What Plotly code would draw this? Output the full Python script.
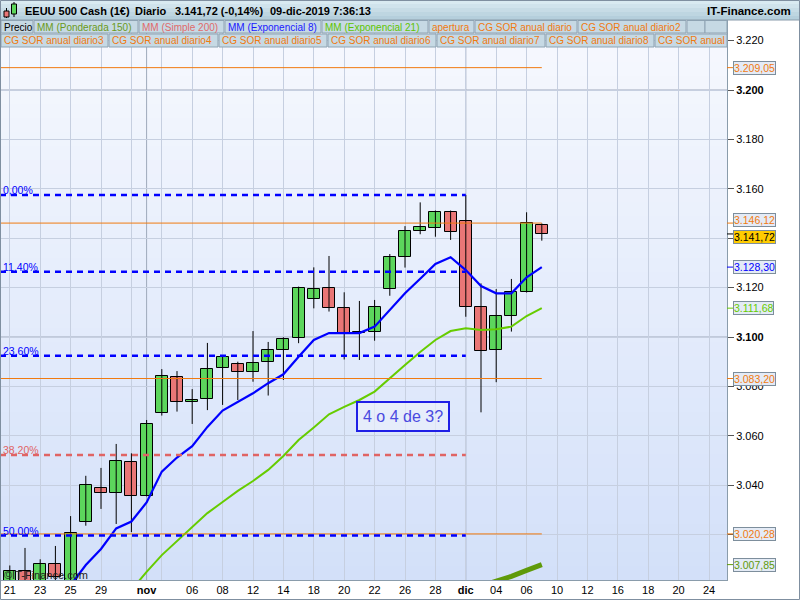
import plotly.graph_objects as go

# ---------------- data ----------------
dates = ["2019-10-21", "2019-10-22", "2019-10-23", "2019-10-24", "2019-10-25",
         "2019-10-28", "2019-10-29", "2019-10-30", "2019-10-31", "2019-11-01",
         "2019-11-04", "2019-11-05", "2019-11-06", "2019-11-07", "2019-11-08",
         "2019-11-11", "2019-11-12", "2019-11-13", "2019-11-14", "2019-11-15",
         "2019-11-18", "2019-11-19", "2019-11-20", "2019-11-21", "2019-11-22",
         "2019-11-25", "2019-11-26", "2019-11-27", "2019-11-28", "2019-11-29",
         "2019-12-02", "2019-12-03", "2019-12-04", "2019-12-05", "2019-12-06",
         "2019-12-09"]
future_dates = ["2019-12-10", "2019-12-11", "2019-12-12", "2019-12-13", "2019-12-16",
                "2019-12-17", "2019-12-18", "2019-12-19", "2019-12-20", "2019-12-23",
                "2019-12-24"]

open_ = [2997.0, 3005.4, 2998.0, 3008.0, 3000.0, 3025.0, 3039.0, 3037.0, 3049.5, 3035.7,
         3069.1, 3084.0, 3073.6, 3074.8, 3087.3, 3089.0, 3085.8, 3089.7, 3094.6, 3099.5,
         3115.3, 3119.7, 3111.6, 3101.8, 3101.9, 3119.3, 3132.3, 3142.9, 3144.0, 3150.5,
         3146.8, 3112.0, 3094.6, 3108.4, 3118.1, 3145.2]
high = [3007.5, 3014.6, 3010.0, 3015.4, 3027.5, 3043.8, 3047.0, 3056.7, 3052.9, 3066.4,
        3087.0, 3086.2, 3078.9, 3097.6, 3092.2, 3090.0, 3102.4, 3098.0, 3099.9, 3120.4,
        3128.2, 3132.8, 3118.1, 3114.6, 3115.0, 3133.6, 3144.9, 3154.5, 3151.2, 3151.2,
        3157.5, 3121.7, 3119.4, 3123.5, 3150.5, 3146.0]
low = [2993.0, 2994.0, 2993.0, 2998.0, 2999.0, 3023.6, 3030.4, 3024.3, 3021.0, 3035.5,
       3068.2, 3069.8, 3064.8, 3070.4, 3072.5, 3074.5, 3081.9, 3076.3, 3082.6, 3097.5,
       3111.6, 3110.3, 3090.9, 3090.7, 3098.5, 3116.7, 3128.1, 3141.6, 3140.6, 3139.3,
       3108.2, 3069.5, 3081.7, 3102.2, 3118.0, 3139.0]
close = [3005.4, 2996.0, 3008.0, 3003.0, 3020.5, 3040.0, 3037.0, 3050.0, 3035.7, 3064.7,
         3084.3, 3073.6, 3074.6, 3086.9, 3092.0, 3085.8, 3089.4, 3094.6, 3099.1, 3119.7,
         3119.3, 3111.6, 3101.5, 3101.5, 3112.0, 3132.3, 3142.9, 3144.4, 3150.7, 3142.4,
         3112.0, 3094.2, 3108.4, 3118.1, 3146.0, 3141.72]

ema8 = [None, None, None, None,
        2999.5, 3007.7, 3014.2, 3022.5, 3025.3, 3033.0, 3045.5, 3051.2, 3055.8, 3063.6,
        3070.2, 3073.7, 3077.2, 3081.3, 3084.9, 3092.0, 3098.8, 3101.6, 3101.6, 3101.6,
        3104.2, 3110.9, 3117.7, 3123.6, 3129.6, 3132.3, 3127.1, 3120.6, 3117.7, 3117.7,
        3124.2, 3128.30]
ema21 = [None, None, None, None, None, None, None, None,
         2997.6, 3004.9, 3011.7, 3017.4, 3023.0, 3028.7, 3033.2, 3037.7, 3041.7, 3046.2,
         3051.8, 3058.3, 3063.4, 3068.7, 3071.7, 3074.5, 3077.9, 3083.4, 3088.7, 3093.9,
         3098.8, 3102.4, 3103.5, 3102.8, 3103.1, 3104.2, 3108.5, 3111.68]
wma150 = [None] * 31 + [2999.2, 3001.1, 3003.1, 3005.5, 3007.85]

fib_levels = [3157.5, 3126.4, 3092.4, 3052.2, 3019.6]
fib_labels = ["0,00%", "11,40%", "23,60%", "38,20%", "50,00%"]
fib_end_date = "2019-12-02"

sor_levels = [3209.05, 3146.12, 3083.20, 3020.28]
sor_end_date = "2019-12-09"

y_ticks = [3000, 3020, 3040, 3060, 3080, 3100, 3120, 3140, 3160, 3180, 3200, 3220]
y_tick_hidden = [3020, 3140]   # covered by value boxes in the original
x_tick_dates = ["2019-10-21", "2019-10-23", "2019-10-25", "2019-10-29", "2019-11-01",
                "2019-11-06", "2019-11-08", "2019-11-12", "2019-11-14", "2019-11-18",
                "2019-11-20", "2019-11-22", "2019-11-26", "2019-11-28", "2019-12-02",
                "2019-12-04", "2019-12-06", "2019-12-10", "2019-12-12", "2019-12-16",
                "2019-12-18", "2019-12-20", "2019-12-24"]
x_tick_labels = ["21", "23", "25", "29", "<b>nov</b>", "06", "08", "12", "14", "18", "20",
                 "22", "26", "28", "<b>dic</b>", "04", "06", "10", "12", "16", "18", "20", "24"]
month_starts = ["2019-11-01", "2019-12-02"]

note_text = "4 o 4 de 3?"
note_date = "2019-11-25"
note_value = 3068.0

title_parts = ["EEUU 500 Cash (1€)", "Diario", "3.141,72 (-0,14%)", "09-dic-2019 7:36:13"]
legend_row1 = ["Precio", "MM (Ponderada 150)", "MM (Simple 200)", "MM (Exponencial 8)",
               "MM (Exponencial 21)", "apertura", "CG SOR anual diario", "CG SOR anual diario2", "", ""]
legend_row2 = ["CG SOR anual diario3", "CG SOR anual diario4", "CG SOR anual diario5",
               "CG SOR anual diario6", "CG SOR anual diario7", "CG SOR anual diario8", "CG SOR anual"]

# ---------------- styles / layout constants ----------------
FONT = "Liberation Sans, Arial, sans-serif"
W, H = 800, 600
ML, MR, MT, MB = 0, 73, 20, 20
PW, PH = W - ML - MR, H - MT - MB

C_UP, C_DN = "#5cd65c", "#e97676"
C_BLUE, C_GREEN, C_OLIVE, C_ORANGE, C_PINK = "#0000ff", "#66cc00", "#5f9a0a", "#f07a10", "#e06464"
fib_colors = [C_BLUE, C_BLUE, C_BLUE, C_PINK, C_BLUE]
row1_colors = ["#000000", "#6a9a20", "#e06a6a", "#1a1aff", "#5ec400", C_ORANGE, C_ORANGE, C_ORANGE,
               C_ORANGE, C_ORANGE]
row1_boxes = [(1, 33), (34, 138), (139, 224), (225, 321), (322, 428), (429, 474), (475, 577),
              (578, 686), (687, 705), (705, 727)]
row2_boxes = [(1, 108), (109, 218), (219, 327), (328, 436), (437, 545), (546, 654), (655, 727)]


def X(px):
    return (px - ML) / PW


def Y(py):
    return (H - MB - py) / PH


def es(v):
    s = f"{v:,.2f}"
    return s.replace(",", "#").replace(".", ",").replace("#", ".")


def es_tick(v):
    return f"{v:,.0f}".replace(",", ".")


all_dates = dates + future_dates
pos = {d: i for i, d in enumerate(all_dates)}
x = [pos[d] for d in dates]

X_RANGE = [-0.645, -0.645 + PW / 15.2]
Y_RANGE = [3200 - 490 / 2.47, 3200 + 70 / 2.47]

fig = go.Figure()

# wicks
wx, wy = [], []
for xi, h, l in zip(x, high, low):
    wx += [xi, xi, None]
    wy += [l, h, None]
fig.add_trace(go.Scatter(x=wx, y=wy, mode="lines", line=dict(color="black", width=1),
                         hoverinfo="skip", showlegend=False))
# bodies
fig.add_trace(go.Bar(
    x=x, y=[max(abs(c - o), 0.35) for o, c in zip(open_, close)],
    base=[min(o, c) for o, c in zip(open_, close)], width=0.8,
    marker=dict(color=[C_UP if c >= o else C_DN for o, c in zip(open_, close)],
                line=dict(color="black", width=1)),
    showlegend=False, hoverinfo="skip"))

# moving averages
fig.add_trace(go.Scatter(x=x, y=wma150, mode="lines", line=dict(color=C_OLIVE, width=5), showlegend=False))
fig.add_trace(go.Scatter(x=x, y=ema21, mode="lines", line=dict(color=C_GREEN, width=2), showlegend=False))
fig.add_trace(go.Scatter(x=x, y=ema8, mode="lines", line=dict(color=C_BLUE, width=2.2), showlegend=False))

# SOR horizontal lines
for lv in sor_levels:
    fig.add_trace(go.Scatter(x=[X_RANGE[0], pos[sor_end_date]], y=[lv, lv], mode="lines",
                             line=dict(color=C_ORANGE, width=1), showlegend=False, hoverinfo="skip"))
# Fibonacci lines
for lv, col in zip(fib_levels, fib_colors):
    fig.add_trace(go.Scatter(x=[X_RANGE[0], pos[fib_end_date]], y=[lv, lv], mode="lines",
                             line=dict(color=col, width=2.5, dash="6px,5px"),
                             showlegend=False, hoverinfo="skip"))

shapes = []
annotations = []

# plot background gradient
N = 40
top, bot = (247, 249, 254), (211, 224, 249)
for i in range(N):
    t = (i + 0.5) / N
    c = tuple(round(top[k] + (bot[k] - top[k]) * t) for k in range(3))
    shapes.append(dict(type="rect", xref="paper", yref="paper", x0=0, x1=1,
                       y0=1 - (i + 1) / N, y1=1 - i / N, line=dict(width=0),
                       fillcolor=f"rgb{c}", layer="below"))

# darker separators
for d in month_starts:
    shapes.append(dict(type="line", xref="x", yref="paper", x0=pos[d], x1=pos[d], y0=0, y1=1,
                       line=dict(color="#9ea9bb", width=1), layer="between"))
for lv in (3100, 3200):
    shapes.append(dict(type="line", xref="paper", yref="y", x0=0, x1=1, y0=lv, y1=lv,
                       line=dict(color="#9ea9bb", width=1), layer="between"))

# title bar
tb_top, tb_bot = (222, 237, 244), (176, 204, 217)
for i in range(5):
    t = (i + 0.5) / 5
    c = tuple(round(tb_top[k] + (tb_bot[k] - tb_top[k]) * t) for k in range(3))
    shapes.append(dict(type="rect", xref="paper", yref="paper", x0=X(0), x1=X(800),
                       y0=Y(4 * (i + 1)), y1=Y(4 * i), line=dict(width=0), fillcolor=f"rgb{c}",
                       layer="above"))
shapes.append(dict(type="line", xref="paper", yref="paper", x0=X(0), x1=X(800), y0=Y(20), y1=Y(20),
                   line=dict(color="#8a9cab", width=1), layer="above"))
# icon
shapes.append(dict(type="line", xref="paper", yref="paper", x0=X(6.5), x1=X(6.5), y0=Y(18), y1=Y(8),
                   line=dict(color="black", width=1), layer="above"))
shapes.append(dict(type="rect", xref="paper", yref="paper", x0=X(4), x1=X(9), y0=Y(17), y1=Y(11),
                   line=dict(color="black", width=1), fillcolor=C_DN, layer="above"))
shapes.append(dict(type="line", xref="paper", yref="paper", x0=X(14), x1=X(14), y0=Y(17), y1=Y(2),
                   line=dict(color="black", width=1), layer="above"))
shapes.append(dict(type="rect", xref="paper", yref="paper", x0=X(11.5), x1=X(16.5), y0=Y(14), y1=Y(4),
                   line=dict(color="black", width=1), fillcolor=C_UP, layer="above"))

xs = [23, 133, 173, 268]
for txt, px in zip(title_parts, xs):
    annotations.append(dict(text=f"<b>{txt}</b>", xref="paper", yref="paper", x=X(px), y=Y(11),
                            xanchor="left", yanchor="middle", showarrow=False,
                            font=dict(family=FONT, size=11, color="black")))
annotations.append(dict(text="<b>IT-Finance.com</b>", xref="paper", yref="paper", x=X(793), y=Y(11),
                        xanchor="right", yanchor="middle", showarrow=False,
                        font=dict(family=FONT, size=11.5, color="black")))


# legend rows
def legend_row(items, boxes, colors, y0, y1):
    for txt, (a, b), col in zip(items, boxes, colors):
        shapes.append(dict(type="rect", xref="paper", yref="paper", x0=X(a), x1=X(b),
                           y0=Y(y1), y1=Y(y0), line=dict(color="#8ea3b3", width=1),
                           fillcolor="#c6d9e4", layer="above"))
        if txt:
            annotations.append(dict(text=txt, xref="paper", yref="paper", x=X(a + 1),
                                    y=Y((y0 + y1) / 2 + 0.5), xanchor="left", yanchor="middle",
                                    showarrow=False, font=dict(family=FONT, size=10, color=col)))


legend_row(legend_row1, row1_boxes, row1_colors, 20.5, 33)
legend_row(legend_row2, row2_boxes, [C_ORANGE] * len(legend_row2), 34, 47)

# fib labels
for lv, lab, col in zip(fib_levels, fib_labels, fib_colors):
    annotations.append(dict(text=lab, xref="paper", yref="y", x=X(0.5), y=lv, xanchor="left",
                            yanchor="bottom", yshift=-3, showarrow=False,
                            font=dict(family=FONT, size=10.5, color=col)))

# right-axis value boxes
BOX_BG = "#e4ebf6"
value_boxes = [
    (sor_levels[0], C_ORANGE, BOX_BG, 0),
    (sor_levels[1], C_ORANGE, BOX_BG, 3),
    (close[-1], "black", "#ffcc00", -3),
    (ema8[-1], C_BLUE, BOX_BG, 0),
    (ema21[-1], C_GREEN, BOX_BG, 0),
    (sor_levels[2], C_ORANGE, BOX_BG, 0),
    (sor_levels[3], C_ORANGE, BOX_BG, 0),
    (wma150[-1], C_OLIVE, BOX_BG, 0),
]
for v, col, bg, ysh in value_boxes:
    shapes.append(dict(type="line", xref="paper", yref="y", x0=X(727), x1=X(733), y0=v, y1=v,
                       line=dict(color=col, width=1)))
    annotations.append(dict(text=es(v), xref="paper", yref="y", x=X(733), y=v, xanchor="left",
                            yanchor="middle", yshift=ysh, showarrow=False, bgcolor=bg,
                            bordercolor="#7d8e9c", borderwidth=1, borderpad=0,
                            font=dict(family=FONT, size=10.5, color=col)))

# note box
annotations.append(dict(text=note_text, xref="x", yref="y", x=pos[note_date] + 0.9, y=note_value,
                        showarrow=False, bordercolor="#1f1fe6", borderwidth=2, borderpad=5,
                        bgcolor="rgba(236,241,252,0.6)",
                        font=dict(family=FONT, size=16, color="#4a4ae0")))

# watermark
annotations.append(dict(text="©IT-Finance.com", xref="paper", yref="paper", x=X(2), y=Y(575),
                        xanchor="left", yanchor="middle", showarrow=False,
                        font=dict(family=FONT, size=11, color="#222222")))

# outer frame
shapes.append(dict(type="rect", xref="paper", yref="paper", x0=X(0.5), x1=X(799.5), y0=Y(599.5),
                   y1=Y(0.5), line=dict(color="#7f8fa0", width=1), layer="above"))

fig.update_layout(
    width=W, height=H, margin=dict(l=ML, r=MR, t=MT, b=MB, pad=0),
    paper_bgcolor="white", plot_bgcolor="rgba(0,0,0,0)",
    showlegend=False, bargap=0, shapes=shapes, annotations=annotations,
    xaxis=dict(range=X_RANGE, tickmode="array", tickvals=[pos[d] for d in x_tick_dates],
               ticktext=x_tick_labels, showgrid=False, ticks="", zeroline=False,
               showline=True, linecolor="#8a9cab", mirror=False,
               tickfont=dict(family=FONT, size=11, color="black"),
               minor=dict(tickmode="linear", tick0=0, dtick=2, showgrid=True,
                          gridcolor="#c6cfe0", gridwidth=1, ticks="")),
    yaxis=dict(range=Y_RANGE, side="right", tickmode="array", tickvals=y_ticks,
               ticktext=["" if v in y_tick_hidden else
                         (("<b>%s</b>" % es_tick(v)) if v % 100 == 0 else es_tick(v)) for v in y_ticks],
               showgrid=True, gridcolor="#c6cfe0", gridwidth=1, zeroline=False,
               ticks="outside", ticklen=6, tickcolor="#555555",
               showline=True, linecolor="#8a9cab", mirror=True,
               tickfont=dict(family=FONT, size=11, color="black")),
)

fig.write_html("out.html", config={"displayModeBar": False},
               post_script="document.body.style.margin='0';document.body.style.overflow='hidden';")
